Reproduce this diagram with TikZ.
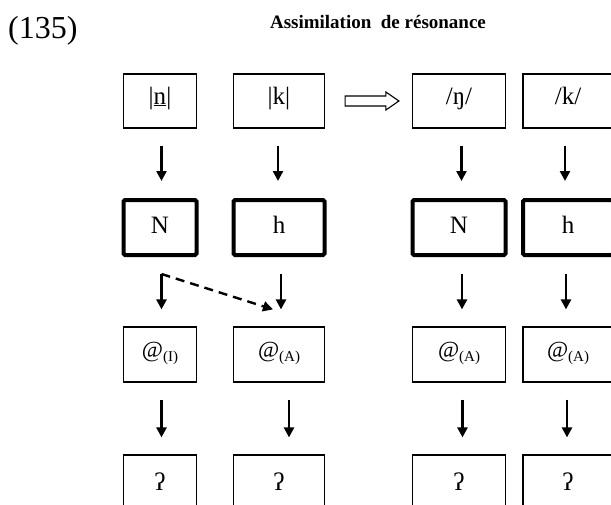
\documentclass[tikz,border=0pt]{standalone}
\usepackage{fontspec}
\setmainfont{Liberation Serif}
\usetikzlibrary{arrows.meta,calc}
\newcommand\subtag[1]{\raisebox{-4pt}{\fontsize{15}{15}\selectfont #1}}
\newcommand\atsign{{\fontsize{23}{23}\selectfont @}}
\begin{document}
\begin{tikzpicture}[x=1pt,y=-1pt,
  box/.style={draw, line width=1.2pt, minimum height=55pt, inner sep=0pt,
    text height=16pt, font=\fontsize{25}{25}\selectfont},
  rowa/.style={box, minimum height=54pt, text depth=10pt},
  rowb/.style={box, line width=4pt, rounded corners=1.5pt, text depth=4pt},
  rowc/.style={box, text depth=11pt},
  rowd/.style={box, text depth=1pt},
  wa/.style={minimum width=73pt},
  wb/.style={minimum width=91pt},
  wc/.style={minimum width=93pt},
  wd/.style={minimum width=90pt},
  arr/.style={line width=2.4pt, -{Triangle[width=10pt,length=10pt]},
    shorten >=17pt, shorten <=17pt},
  darr/.style={line width=2.4pt, dash pattern=on 9pt off 6pt,
    -{Triangle[width=10pt,length=10pt]}},
  hollow/.style={draw, line width=1.1pt, line join=miter}
]
\useasboundingbox (0,0) rectangle (611,504);

\node[font=\fontsize{32}{32}\selectfont, anchor=base west, inner sep=0pt] (num) at (8,38) {(135)};
\node[font=\fontsize{19}{19}\selectfont\bfseries, anchor=base, inner sep=0pt] (title) at (378,28) {Assimilation\ \ de résonance};

% row 1
\node[rowa,wa] (n1) at (160,101) {|\underline{n}|};
\node[rowa,wb] (k1) at (279,101) {|k|};
\node[rowa,wc] (ng1) at (459,101) {/ŋ/};
\node[rowa,wd] (kk1) at (568,101) {/k/};
% row 2
\node[rowb,wa] (n2) at (160,227.5) {N};
\node[rowb,wb] (k2) at (279,227.5) {h};
\node[rowb,wc] (ng2) at (459,227.5) {N};
\node[rowb,wd] (kk2) at (568,227.5) {h};
% row 3
\node[rowc,wa] (n3) at (160,354.5) {\atsign\subtag{(I)}};
\node[rowc,wb] (k3) at (279,354.5) {\atsign\subtag{(A)}};
\node[rowc,wc] (ng3) at (459,354.5) {\atsign\subtag{(A)}};
\node[rowc,wd] (kk3) at (568,354.5) {\atsign\subtag{(A)}};
% row 4
\node[rowd,wa] (n4) at (160,482.5) {ʔ};
\node[rowd,wb] (k4) at (279,482.5) {ʔ};
\node[rowd,wc] (ng4) at (459,482.5) {ʔ};
\node[rowd,wd] (kk4) at (568,482.5) {ʔ};

% vertical arrows
\draw[arr] ([xshift=1.5pt]n1.south) -- ([xshift=1.5pt]n2.north);
\draw[arr] ([xshift=-1pt]k1.south) -- ([xshift=-1pt]k2.north);
\draw[arr] ([xshift=2.5pt]ng1.south) -- ([xshift=2.5pt]ng2.north);
\draw[arr] ([xshift=-3pt]kk1.south) -- ([xshift=-3pt]kk2.north);

\draw[arr] ([xshift=1.5pt]n2.south) -- ([xshift=1.5pt]n3.north);
\draw[arr] ([xshift=2pt]k2.south) -- ([xshift=2pt]k3.north);
\draw[arr] ([xshift=3pt]ng2.south) -- ([xshift=3pt]ng3.north);
\draw[arr] ([xshift=-2pt]kk2.south) -- ([xshift=-2pt]kk3.north);

\draw[arr] ([xshift=1.5pt]n3.south) -- ([xshift=1.5pt]n4.north);
\draw[arr] ([xshift=10pt]k3.south) -- ([xshift=10pt]k4.north);
\draw[arr] ([xshift=3.5pt]ng3.south) -- ([xshift=3.5pt]ng4.north);
\draw[arr] ([xshift=-1pt]kk3.south) -- ([xshift=-1pt]kk4.north);

% dashed arrow
\coordinate (ds) at ($(n2.south)+(1.5,17)$);
\coordinate (de) at ($(k3.north)+(-6,-17)$);
\draw[darr, line cap=butt] (ds) -- (de);

% hollow arrow
\coordinate (ha) at ($(k1.east)+(20,0)$);
\coordinate (hb) at ($(ng1.west)+(-13,0)$);
\draw[hollow] ($(ha)+(0,-5)$) -- ($(hb)+(-13,-5)$) -- ($(hb)+(-13,-9)$) -- (hb)
  -- ($(hb)+(-13,9)$) -- ($(hb)+(-13,5)$) -- ($(ha)+(0,5)$) -- cycle;
\end{tikzpicture}
\end{document}
